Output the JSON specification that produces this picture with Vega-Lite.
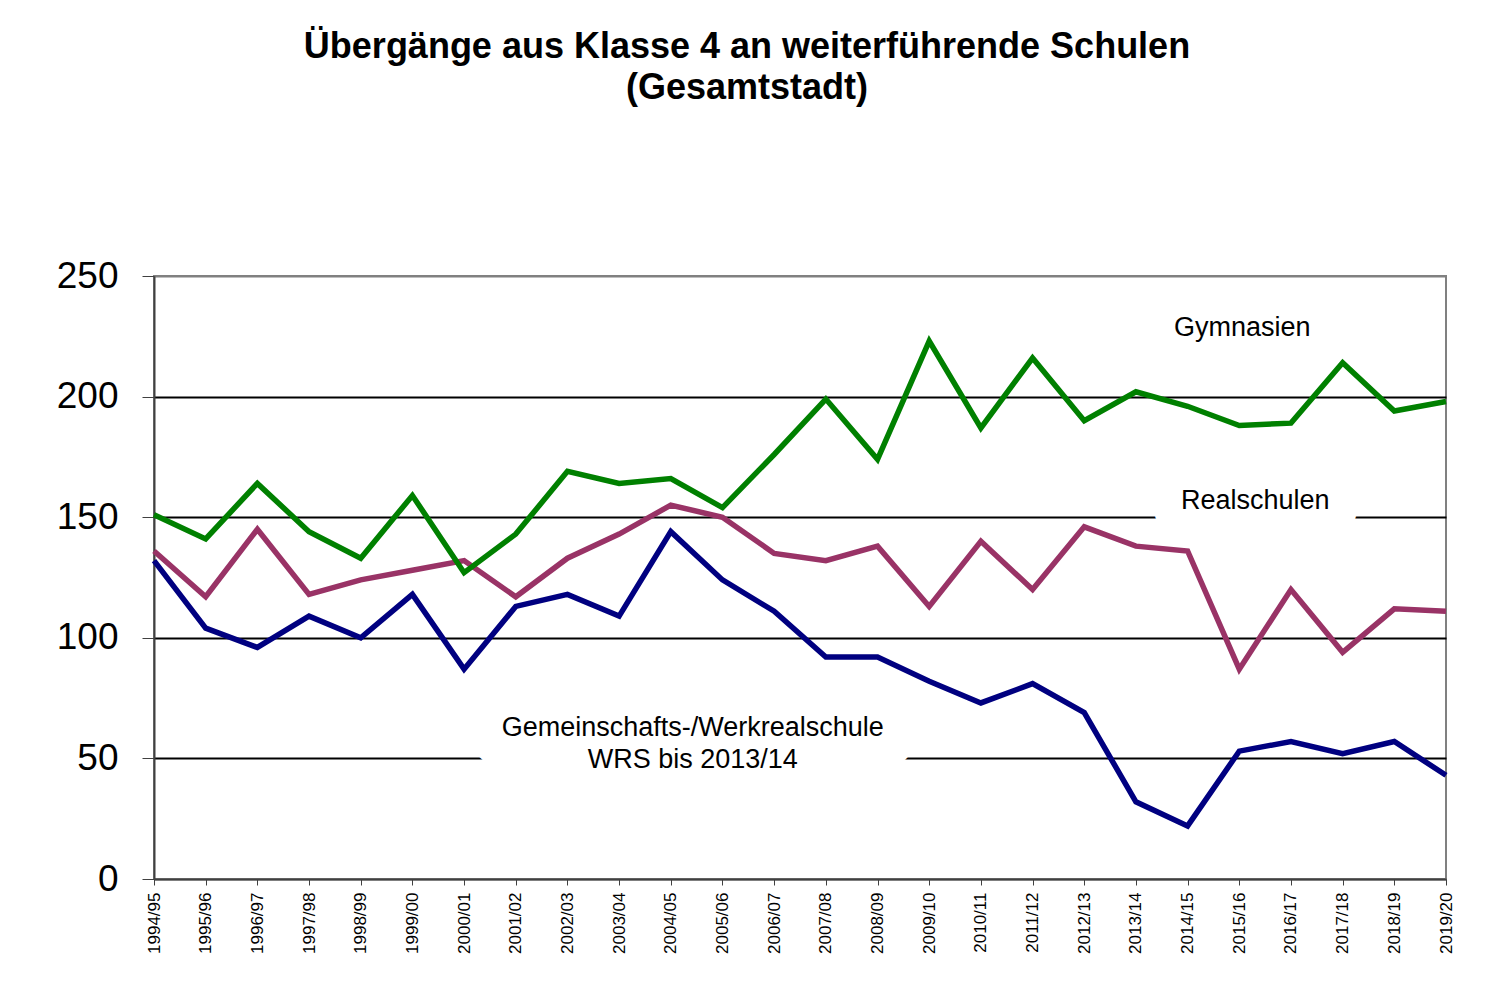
{
  "$schema": "https://vega.github.io/schema/vega-lite/v6.json",
  "width": 1292,
  "height": 603,
  "autosize": {"type": "none"},
  "padding": {"left": 154, "top": 276, "right": 40, "bottom": 105},
  "background": "white",
  "title": {
    "text": ["Übergänge aus Klasse 4 an weiterführende Schulen", "(Gesamtstadt)"],
    "font": "Liberation Sans",
    "fontSize": 36,
    "fontWeight": "bold",
    "color": "black",
    "anchor": "middle",
    "dx": -53,
    "offset": 150,
    "lineHeight": 41
  },
  "config": {
    "view": {"stroke": "#808080", "strokeWidth": 2},
    "font": "Liberation Sans"
  },
  "datasets": {
    "series": [
      {"year": "1994/95", "type": "Gemeinschafts-/Werkrealschule", "value": 132},
      {"year": "1995/96", "type": "Gemeinschafts-/Werkrealschule", "value": 104},
      {"year": "1996/97", "type": "Gemeinschafts-/Werkrealschule", "value": 96},
      {"year": "1997/98", "type": "Gemeinschafts-/Werkrealschule", "value": 109},
      {"year": "1998/99", "type": "Gemeinschafts-/Werkrealschule", "value": 100},
      {"year": "1999/00", "type": "Gemeinschafts-/Werkrealschule", "value": 118},
      {"year": "2000/01", "type": "Gemeinschafts-/Werkrealschule", "value": 87},
      {"year": "2001/02", "type": "Gemeinschafts-/Werkrealschule", "value": 113},
      {"year": "2002/03", "type": "Gemeinschafts-/Werkrealschule", "value": 118},
      {"year": "2003/04", "type": "Gemeinschafts-/Werkrealschule", "value": 109},
      {"year": "2004/05", "type": "Gemeinschafts-/Werkrealschule", "value": 144},
      {"year": "2005/06", "type": "Gemeinschafts-/Werkrealschule", "value": 124},
      {"year": "2006/07", "type": "Gemeinschafts-/Werkrealschule", "value": 111},
      {"year": "2007/08", "type": "Gemeinschafts-/Werkrealschule", "value": 92},
      {"year": "2008/09", "type": "Gemeinschafts-/Werkrealschule", "value": 92},
      {"year": "2009/10", "type": "Gemeinschafts-/Werkrealschule", "value": 82},
      {"year": "2010/11", "type": "Gemeinschafts-/Werkrealschule", "value": 73},
      {"year": "2011/12", "type": "Gemeinschafts-/Werkrealschule", "value": 81},
      {"year": "2012/13", "type": "Gemeinschafts-/Werkrealschule", "value": 69},
      {"year": "2013/14", "type": "Gemeinschafts-/Werkrealschule", "value": 32},
      {"year": "2014/15", "type": "Gemeinschafts-/Werkrealschule", "value": 22},
      {"year": "2015/16", "type": "Gemeinschafts-/Werkrealschule", "value": 53},
      {"year": "2016/17", "type": "Gemeinschafts-/Werkrealschule", "value": 57},
      {"year": "2017/18", "type": "Gemeinschafts-/Werkrealschule", "value": 52},
      {"year": "2018/19", "type": "Gemeinschafts-/Werkrealschule", "value": 57},
      {"year": "2019/20", "type": "Gemeinschafts-/Werkrealschule", "value": 43},
      {"year": "1994/95", "type": "Realschulen", "value": 136},
      {"year": "1995/96", "type": "Realschulen", "value": 117},
      {"year": "1996/97", "type": "Realschulen", "value": 145},
      {"year": "1997/98", "type": "Realschulen", "value": 118},
      {"year": "1998/99", "type": "Realschulen", "value": 124},
      {"year": "1999/00", "type": "Realschulen", "value": 128},
      {"year": "2000/01", "type": "Realschulen", "value": 132},
      {"year": "2001/02", "type": "Realschulen", "value": 117},
      {"year": "2002/03", "type": "Realschulen", "value": 133},
      {"year": "2003/04", "type": "Realschulen", "value": 143},
      {"year": "2004/05", "type": "Realschulen", "value": 155},
      {"year": "2005/06", "type": "Realschulen", "value": 150},
      {"year": "2006/07", "type": "Realschulen", "value": 135},
      {"year": "2007/08", "type": "Realschulen", "value": 132},
      {"year": "2008/09", "type": "Realschulen", "value": 138},
      {"year": "2009/10", "type": "Realschulen", "value": 113},
      {"year": "2010/11", "type": "Realschulen", "value": 140},
      {"year": "2011/12", "type": "Realschulen", "value": 120},
      {"year": "2012/13", "type": "Realschulen", "value": 146},
      {"year": "2013/14", "type": "Realschulen", "value": 138},
      {"year": "2014/15", "type": "Realschulen", "value": 136},
      {"year": "2015/16", "type": "Realschulen", "value": 87},
      {"year": "2016/17", "type": "Realschulen", "value": 120},
      {"year": "2017/18", "type": "Realschulen", "value": 94},
      {"year": "2018/19", "type": "Realschulen", "value": 112},
      {"year": "2019/20", "type": "Realschulen", "value": 111},
      {"year": "1994/95", "type": "Gymnasien", "value": 151},
      {"year": "1995/96", "type": "Gymnasien", "value": 141},
      {"year": "1996/97", "type": "Gymnasien", "value": 164},
      {"year": "1997/98", "type": "Gymnasien", "value": 144},
      {"year": "1998/99", "type": "Gymnasien", "value": 133},
      {"year": "1999/00", "type": "Gymnasien", "value": 159},
      {"year": "2000/01", "type": "Gymnasien", "value": 127},
      {"year": "2001/02", "type": "Gymnasien", "value": 143},
      {"year": "2002/03", "type": "Gymnasien", "value": 169},
      {"year": "2003/04", "type": "Gymnasien", "value": 164},
      {"year": "2004/05", "type": "Gymnasien", "value": 166},
      {"year": "2005/06", "type": "Gymnasien", "value": 154},
      {"year": "2006/07", "type": "Gymnasien", "value": 176},
      {"year": "2007/08", "type": "Gymnasien", "value": 199},
      {"year": "2008/09", "type": "Gymnasien", "value": 174},
      {"year": "2009/10", "type": "Gymnasien", "value": 223},
      {"year": "2010/11", "type": "Gymnasien", "value": 187},
      {"year": "2011/12", "type": "Gymnasien", "value": 216},
      {"year": "2012/13", "type": "Gymnasien", "value": 190},
      {"year": "2013/14", "type": "Gymnasien", "value": 202},
      {"year": "2014/15", "type": "Gymnasien", "value": 196},
      {"year": "2015/16", "type": "Gymnasien", "value": 188},
      {"year": "2016/17", "type": "Gymnasien", "value": 189},
      {"year": "2017/18", "type": "Gymnasien", "value": 214},
      {"year": "2018/19", "type": "Gymnasien", "value": 194},
      {"year": "2019/20", "type": "Gymnasien", "value": 198}
    ],
    "labels": [
      {"year": "2015/16", "value": 228.4, "label": "Gymnasien", "key": "g"},
      {"year": "2015/16", "value": 156.7, "label": "Realschulen", "key": "r"},
      {"year": "2004/05", "value": 56.4, "label": "Gemeinschafts-/Werkrealschule\nWRS bis 2013/14", "key": "w"}
    ]
  },
  "encoding": {
    "x": {
      "field": "year",
      "type": "ordinal",
      "scale": {"type": "point", "padding": 0},
      "axis": {
        "title": null,
        "labelAngle": 270,
        "labelFontSize": 17,
        "labelFont": "Liberation Sans",
        "labelColor": "black",
        "labelPadding": 7,
        "tickSize": 6,
        "tickColor": "#404040",
        "domainColor": "#404040",
        "domainWidth": 2,
        "grid": false
      }
    },
    "y": {
      "field": "value",
      "type": "quantitative",
      "scale": {"domain": [0, 250], "nice": false, "zero": true},
      "axis": {
        "title": null,
        "values": [0, 50, 100, 150, 200, 250],
        "labelFontSize": 37,
        "labelFont": "Liberation Sans",
        "labelColor": "black",
        "labelPadding": 24,
        "tickSize": 12,
        "tickColor": "#404040",
        "domainColor": "#404040",
        "domainWidth": 2,
        "grid": true,
        "gridColor": {"condition": {"test": "datum.value === 250 || datum.value === 0", "value": "#808080"}, "value": "black"},
        "gridWidth": 2,
        "gridOpacity": 1
      }
    }
  },
  "layer": [
    {
      "data": {"name": "labels"},
      "transform": [{"filter": "datum.key === 'w'"}],
      "mark": {"type": "text", "fontSize": 27, "lineBreak": "\n", "lineHeight": 32, "dx": 22, "dy": -15, "baseline": "middle", "align": "center", "stroke": "white", "strokeWidth": 70, "strokeJoin": "round", "fill": "white"},
      "encoding": {"text": {"field": "label"}}
    },
    {
      "data": {"name": "labels"},
      "transform": [{"filter": "datum.key === 'r'"}],
      "mark": {"type": "text", "fontSize": 27, "dx": 16, "baseline": "middle", "align": "center", "stroke": "white", "strokeWidth": 58, "strokeJoin": "round", "fill": "white"},
      "encoding": {"text": {"field": "label"}}
    },
    {
      "data": {"name": "series"},
      "mark": {"type": "line", "strokeWidth": 5.5, "strokeJoin": "miter"},
      "encoding": {
        "color": {
          "field": "type",
          "type": "nominal",
          "scale": {"domain": ["Gemeinschafts-/Werkrealschule", "Realschulen", "Gymnasien"], "range": ["#000080", "#993366", "#008000"]},
          "legend": null
        },
        "order": {"field": "year"}
      }
    },
    {
      "data": {"name": "labels"},
      "transform": [{"filter": "datum.key === 'w'"}],
      "mark": {"type": "text", "fontSize": 27, "lineBreak": "\n", "lineHeight": 32, "dx": 22, "dy": -15, "baseline": "middle", "align": "center", "color": "black"},
      "encoding": {"text": {"field": "label"}}
    },
    {
      "data": {"name": "labels"},
      "transform": [{"filter": "datum.key === 'r'"}],
      "mark": {"type": "text", "fontSize": 27, "dx": 16, "baseline": "middle", "align": "center", "color": "black"},
      "encoding": {"text": {"field": "label"}}
    },
    {
      "data": {"name": "labels"},
      "transform": [{"filter": "datum.key === 'g'"}],
      "mark": {"type": "text", "fontSize": 27, "dx": 3, "baseline": "middle", "align": "center", "color": "black"},
      "encoding": {"text": {"field": "label"}}
    }
  ]
}
